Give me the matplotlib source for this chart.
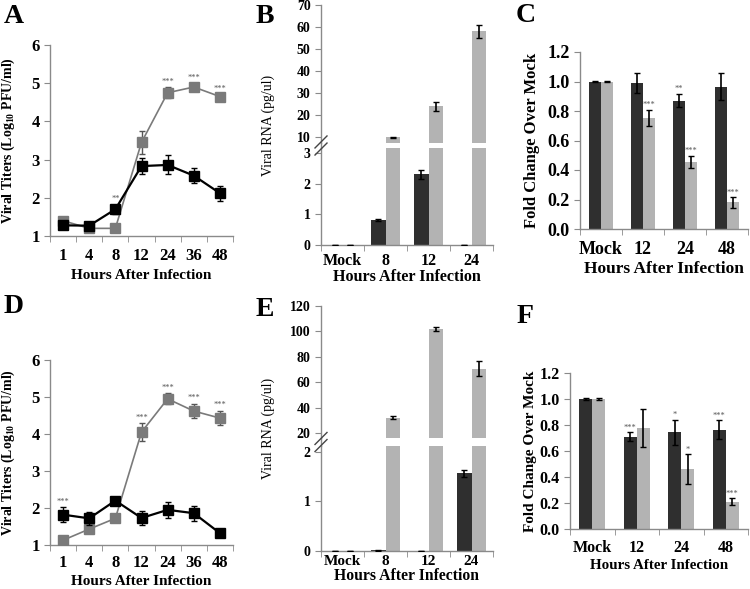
import matplotlib
matplotlib.use("Agg")
import matplotlib.pyplot as plt
from matplotlib.lines import Line2D
import numpy as np

plt.rcParams['font.family'] = ['Liberation Serif', 'DejaVu Serif']
plt.rcParams['font.weight'] = 'bold'
plt.rcParams['axes.labelweight'] = 'bold'
plt.rcParams['mathtext.fontset'] = 'custom'
plt.rcParams['mathtext.rm'] = 'Liberation Serif:bold'
plt.rcParams['mathtext.bf'] = 'Liberation Serif:bold'

# ---- data ----
hours_line = ['1', '4', '8', '12', '24', '36', '48']

a_black = [1.28, 1.27, 1.70, 2.83, 2.86, 2.58, 2.12]
a_black_err = [0.05, 0.05, 0.12, 0.22, 0.25, 0.20, 0.20]
a_gray = [1.40, 1.20, 1.20, 3.45, 4.75, 4.90, 4.65]
a_gray_err = [0.04, 0.03, 0.03, 0.30, 0.15, 0.10, 0.06]
a_stars_black = {2: '**'}
a_stars_gray = {4: '***', 5: '***', 6: '***'}

d_black = [1.82, 1.72, 2.20, 1.73, 1.95, 1.86, 1.32]
d_black_err = [0.20, 0.18, 0.05, 0.18, 0.22, 0.20, 0.05]
d_gray = [1.13, 1.43, 1.72, 4.05, 4.95, 4.62, 4.43]
d_gray_err = [0.03, 0.05, 0.03, 0.25, 0.15, 0.20, 0.20]
d_stars_black = {0: '***'}
d_stars_gray = {3: '***', 4: '***', 5: '***', 6: '***'}

hours_rna = ['Mock', '8', '12', '24']
b_dark = [0.01, 0.82, 2.30, 0.01]
b_dark_err = [0.0, 0.04, 0.15, 0.0]
b_light = [0.01, 10.0, 24.0, 58.0]
b_light_err = [0.0, 0.3, 2.2, 3.0]

e_dark = [0.005, 0.02, 0.01, 1.57]
e_dark_err = [0.0, 0.01, 0.0, 0.07]
e_light = [0.005, 32.0, 102.0, 70.5]
e_light_err = [0.0, 1.2, 1.5, 6.0]

hours_fold = ['Mock', '12', '24', '48']
c_dark = [1.0, 0.99, 0.87, 0.965]
c_dark_err = [0.005, 0.065, 0.045, 0.09]
c_light = [1.0, 0.755, 0.455, 0.18]
c_light_err = [0.005, 0.055, 0.04, 0.035]
c_stars_dark = {2: '**'}
c_stars_light = {1: '***', 2: '***', 3: '***'}

f_dark = [1.0, 0.71, 0.745, 0.765]
f_dark_err = [0.005, 0.035, 0.095, 0.07]
f_light = [1.0, 0.775, 0.46, 0.21]
f_light_err = [0.005, 0.145, 0.115, 0.025]
f_stars_dark = {1: '***', 2: '*', 3: '***'}
f_stars_light = {2: '*', 3: '***'}

DARK = '#2f2f2f'
LIGHT = '#b3b3b3'
GRAY = '#7a7a7a'
SPINE = '#8a8a8a'
STAR = '#555555'

W, H = 750, 589
fig = plt.figure(figsize=(7.5, 5.89), dpi=100)


def box(l, t, r, b):
    return [l / W, 1 - b / H, (r - l) / W, (b - t) / H]


def style_axes(ax, n, pad=6):
    for s in ['top', 'right']:
        ax.spines[s].set_visible(False)
    for s in ['left', 'bottom']:
        ax.spines[s].set_color(SPINE)
        ax.spines[s].set_linewidth(1.0)
    ax.set_xlim(-0.5, n - 0.5)
    ax.set_xticks(np.arange(n))
    ax.set_xticks(np.arange(n + 1) - 0.5, minor=True)
    ax.tick_params(axis='x', which='major', length=0, pad=pad)
    ax.tick_params(axis='x', which='minor', length=4, color=SPINE, direction='out')
    ax.tick_params(axis='y', length=4, color=SPINE, direction='out')


def line_panel(ax, black, black_err, gray, gray_err, stars_black, stars_gray, pad=9):
    x = np.arange(len(hours_line))
    ax.errorbar(x, gray, yerr=gray_err, color=GRAY, marker='s', ms=7, lw=1.2,
                ecolor='#555555', elinewidth=1, capsize=2, zorder=3)
    ax.errorbar(x, black, yerr=black_err, color='black', marker='s', ms=7, lw=1.6,
                ecolor='black', elinewidth=1, capsize=2, zorder=4)
    for i, t in stars_black.items():
        ax.text(x[i], black[i] + black_err[i] + 0.04, t, ha='center', va='bottom',
                fontsize=6, color=STAR, fontweight='normal')
    for i, t in stars_gray.items():
        ax.text(x[i], gray[i] + gray_err[i] + 0.04, t, ha='center', va='bottom',
                fontsize=6, color=STAR, fontweight='normal')
    style_axes(ax, len(hours_line), pad=pad)
    ax.set_ylim(1, 6)
    ax.set_yticks(range(1, 7))
    ax.set_xticklabels(hours_line, fontsize=12)
    ax.tick_params(axis='y', labelsize=12)
    ax.set_xlabel('Hours After Infection', fontsize=11, labelpad=3)
    ax.set_ylabel('Viral Titers (Log$_{10}$ PFU/ml)', fontsize=10)
    ax.yaxis.set_label_coords(-0.18, 0.5)


def bars(ax, dark, dark_err, light, light_err, w=0.3, off=0.15):
    x = np.arange(len(dark))
    ax.bar(x - off, dark, w, color=DARK, zorder=2)
    ax.bar(x + off, light, w, color=LIGHT, zorder=2)
    ax.errorbar(x - off, dark, yerr=dark_err, fmt='none', ecolor='black',
                elinewidth=1.2, capsize=2, zorder=3)
    ax.errorbar(x + off, light, yerr=light_err, fmt='none', ecolor='black',
                elinewidth=1.2, capsize=2, zorder=3)
    return x


def fold_panel(ax, dark, dark_err, light, light_err, stars_dark, stars_light,
               fs, xl_fs, yl_fs, yl_x, pad):
    x = bars(ax, dark, dark_err, light, light_err, w=0.29, off=0.145)
    for i, t in stars_dark.items():
        ax.text(x[i] - 0.145, dark[i] + dark_err[i] + 0.005, t, ha='center', va='bottom',
                fontsize=6, color=STAR, fontweight='normal')
    for i, t in stars_light.items():
        ax.text(x[i] + 0.145, light[i] + light_err[i] + 0.005, t, ha='center', va='bottom',
                fontsize=6, color=STAR, fontweight='normal')
    style_axes(ax, len(hours_fold), pad=pad)
    ax.set_ylim(0, 1.2)
    ax.set_yticks(np.arange(0, 1.21, 0.2))
    ax.set_yticklabels(['%.1f' % v for v in np.arange(0, 1.21, 0.2)], fontsize=fs)
    ax.set_xticklabels(hours_fold, fontsize=fs)
    ax.set_xlabel('Hours After Infection', fontsize=xl_fs, labelpad=2)
    ax.set_ylabel('Fold Change Over Mock', fontsize=yl_fs)
    ax.yaxis.set_label_coords(yl_x, 0.5)


def broken_panel(pos_top, pos_bot, dark, dark_err, light, light_err,
                 top_lim, top_ticks, bot_lim, bot_ticks,
                 tick_pad=6, tick_fs=11.5, xl_fs=11.6, xl_pad=0):
    ax_t = fig.add_axes(pos_top)
    ax_b = fig.add_axes(pos_bot)
    for ax in (ax_t, ax_b):
        bars(ax, dark, dark_err, light, light_err, w=0.33, off=0.165)
        style_axes(ax, len(hours_rna), pad=tick_pad)
        ax.tick_params(axis='y', labelsize=10)
    ax_t.set_ylim(*top_lim)
    ax_t.set_yticks(top_ticks)
    ax_t.spines['bottom'].set_visible(False)
    ax_t.tick_params(axis='x', which='both', length=0, labelbottom=False)
    ax_b.set_ylim(*bot_lim)
    ax_b.set_yticks(bot_ticks)
    ax_b.set_xticklabels(hours_rna, fontsize=tick_fs)
    ax_b.set_xlabel('Hours After Infection', fontsize=xl_fs, labelpad=xl_pad)
    # continuous spine through the gap and break marks
    xs = pos_top[0]
    fig.add_artist(Line2D([xs, xs], [pos_bot[1] + pos_bot[3], pos_top[1]],
                          color=SPINE, lw=1.0, transform=fig.transFigure))
    ymid = (pos_bot[1] + pos_bot[3] + pos_top[1]) / 2
    for dy in (-0.006, 0.006):
        fig.add_artist(Line2D([xs - 6 / W, xs + 6 / W], [ymid + dy - 6 / H, ymid + dy + 6 / H],
                              color='#444444', lw=1.0, transform=fig.transFigure))
    yc = (pos_bot[1] + pos_top[1] + pos_top[3]) / 2
    fig.text(xs - 53 / W, yc, 'Viral RNA (pg/ul)', rotation=90, ha='center', va='center',
             fontsize=10, fontweight='normal')
    return ax_t, ax_b


# ---- panel A ----
axA = fig.add_axes(box(50, 45, 233, 236))
line_panel(axA, a_black, a_black_err, a_gray, a_gray_err, a_stars_black, a_stars_gray)

# ---- panel D ----
axD = fig.add_axes(box(50, 360, 233, 545))
line_panel(axD, d_black, d_black_err, d_gray, d_gray_err, d_stars_black, d_stars_gray, pad=7)

# ---- panel B ----
broken_panel(box(321, 5, 493, 143), box(321, 148, 493, 245),
             b_dark, b_dark_err, b_light, b_light_err,
             (7.4, 70), [10, 20, 30, 40, 50, 60, 70], (0, 3.16), [0, 1, 2, 3])

# ---- panel E ----
broken_panel(box(321, 306, 493, 438), box(321, 446, 493, 551),
             e_dark, e_dark_err, e_light, e_light_err,
             (16, 120), [20, 40, 60, 80, 100, 120], (0, 2.12), [0, 1, 2],
             tick_pad=3, tick_fs=11, xl_fs=11.3, xl_pad=0)

# ---- panel C ----
axC = fig.add_axes(box(580, 52, 748, 229))
fold_panel(axC, c_dark, c_dark_err, c_light, c_light_err, c_stars_dark, c_stars_light,
           fs=13, xl_fs=12.5, yl_fs=12, yl_x=-0.24, pad=9)

# ---- panel F ----
axF = fig.add_axes(box(570, 373, 748, 529))
fold_panel(axF, f_dark, f_dark_err, f_light, f_light_err, f_stars_dark, f_stars_light,
           fs=11.5, xl_fs=10.8, yl_fs=11, yl_x=-0.185, pad=8)

# panel letters
for lbl, (px, py) in {'A': (4, 4), 'B': (256, 4), 'C': (516, 3),
                      'D': (4, 294), 'E': (256, 297), 'F': (517, 304)}.items():
    fig.text(px / W, 1 - py / H, lbl, fontsize=20, fontweight='bold', ha='left', va='top')

fig.savefig('out.png', dpi=100)
